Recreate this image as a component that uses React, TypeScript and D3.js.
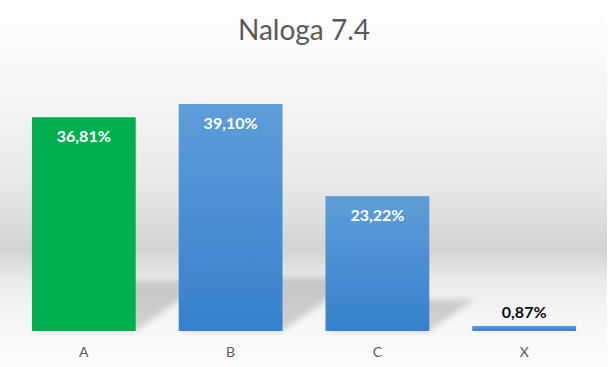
import React from "react";
import * as d3 from "d3";

const categories = ["A", "B", "C", "X"];
const values = [36.81, 39.1, 23.22, 0.87];
const valueLabels = ["36,81%", "39,10%", "23,22%", "0,87%"];
const barKinds = ["green", "blue", "blue", "blue"];
const titleText = "Naloga 7.4";

const W = 610;
const H = 367;

export default function App() {
  const x = d3
    .scaleBand<string>()
    .domain(categories)
    .range([10.5, 597.5])
    .paddingInner(0.293)
    .paddingOuter(0.146);
  const y = d3.scaleLinear().domain([0, 45]).range([331, 69.7]);
  const base = y(0);
  const bw = x.bandwidth();

  const font = "Lato, 'Open Sans', sans-serif";

  return (
    <svg
      width={W}
      height={H}
      style={{ position: "absolute", left: 0, top: 0, display: "block" }}
    >
      <defs>
        <linearGradient id="bg" x1="0" y1="0" x2="0" y2="1">
          <stop offset="0" stopColor="#ffffff" />
          <stop offset="0.3" stopColor="#f4f4f4" />
          <stop offset="0.5" stopColor="#e8e8e8" />
          <stop offset="0.68" stopColor="#d3d3d3" />
          <stop offset="0.77" stopColor="#ececec" />
          <stop offset="0.88" stopColor="#f7f7f7" />
          <stop offset="1" stopColor="#fcfcfc" />
        </linearGradient>
        <linearGradient id="blueGrad" x1="0" y1="0" x2="0" y2="1">
          <stop offset="0" stopColor="#5e9dd8" />
          <stop offset="1" stopColor="#3780cc" />
        </linearGradient>
        <filter id="shadowBlur" x="-30%" y="-50%" width="160%" height="200%">
          <feGaussianBlur stdDeviation="3" />
        </filter>
      </defs>
      <rect x={0} y={0} width={607} height={H} fill="url(#bg)" />
      <rect x={607} y={0} width={3} height={H} fill="#ffffff" />

      <text
        x={304}
        y={40}
        textAnchor="middle"
        fontFamily={font}
        fontSize={28}
        fill="#595959"
      >
        {titleText}
      </text>

      {/* perspective shadows */}
      <g filter="url(#shadowBlur)">
        {categories.map((c, i) => {
          const x0 = x(c) as number;
          const x1 = x0 + bw;
          const h = base - y(values[i]);
          const sh = h * 0.235;
          const dx = sh * 1.42;
          const pts = [
            [x0, base],
            [x1, base],
            [x1 + dx, base - sh],
            [x0 + dx, base - sh],
          ]
            .map((p) => p.join(","))
            .join(" ");
          return <polygon key={c} points={pts} fill="#000" opacity={0.16} />;
        })}
      </g>

      {categories.map((c, i) => {
        const x0 = x(c) as number;
        const top = y(values[i]);
        return (
          <rect
            key={c}
            x={x0}
            y={top}
            width={bw}
            height={base - top}
            fill={barKinds[i] === "green" ? "#00b050" : "url(#blueGrad)"}
          />
        );
      })}

      {categories.map((c, i) => {
        const x0 = x(c) as number;
        const top = y(values[i]);
        const inside = base - top > 40;
        return (
          <text
            key={c}
            x={x0 + bw / 2}
            y={inside ? top + 25 : top - 8}
            textAnchor="middle"
            fontFamily={font}
            fontWeight="bold"
            fontSize={16}
            fill={inside ? "#ffffff" : "#0d0d0d"}
          >
            {valueLabels[i]}
          </text>
        );
      })}

      {categories.map((c) => (
        <text
          key={c}
          x={(x(c) as number) + bw / 2}
          y={357}
          textAnchor="middle"
          fontFamily={font}
          fontSize={14}
          fill="#595959"
        >
          {c}
        </text>
      ))}
    </svg>
  );
}
